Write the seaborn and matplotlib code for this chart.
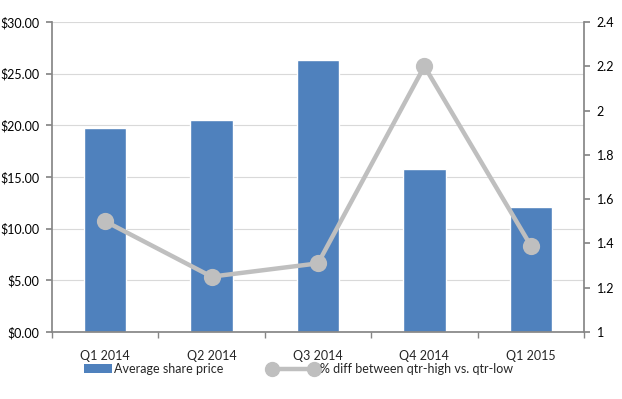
import numpy as np
import pandas as pd
import matplotlib
matplotlib.use("Agg")
import matplotlib.pyplot as plt
import seaborn as sns
from matplotlib.lines import Line2D
from matplotlib.patches import Patch, Rectangle
from matplotlib.legend_handler import HandlerPatch
from matplotlib.ticker import FuncFormatter, MultipleLocator, FixedLocator

# === Data ===
quarters = ["Q1 2014", "Q2 2014", "Q3 2014", "Q4 2014", "Q1 2015"]
avg_price = [19.75, 20.5, 26.3, 15.75, 12.05]
pct_diff = [1.50, 1.25, 1.31, 2.20, 1.39]

BLUE = "#4F81BD"
GREY = "#BFBFBF"
AXIS = "#868686"
FS = 9

sns.set_theme(style="white")
plt.rcParams["font.family"] = ["Lato", "DejaVu Sans"]
plt.rcParams["font.size"] = FS

df = pd.DataFrame({"quarter": quarters, "price": avg_price, "pct": pct_diff})

fig = plt.figure(figsize=(6.22, 3.99), dpi=100)
ax = fig.add_axes([52 / 622, 1 - 332 / 399, (584 - 52) / 622, (332 - 22) / 399])

# === Bars (left axis) ===
sns.barplot(data=df, x="quarter", y="price", color=BLUE, width=0.4,
            saturation=1, ax=ax, zorder=2)
ax.set_ylim(0, 30)
ax.yaxis.set_major_locator(MultipleLocator(5))
ax.yaxis.set_major_formatter(FuncFormatter(lambda v, p: f"${v:.2f}"))
ax.grid(axis="y", color="#D9D9D9", linewidth=0.8, zorder=0)
ax.set_axisbelow(True)
ax.set_xlabel("")
ax.set_ylabel("")
ax.set_xlim(-0.5, 4.5)

# === Line (right axis) ===
ax2 = ax.twinx()
sns.pointplot(data=df, x="quarter", y="pct", color=GREY, markers="o",
              markersize=10, linewidth=3.2, ax=ax2)
ax2.set_ylim(1, 2.4)
ax2.yaxis.set_major_locator(MultipleLocator(0.2))
ax2.yaxis.set_major_formatter(FuncFormatter(lambda v, p: f"{v:g}"))
ax2.set_xlim(-0.5, 4.5)
ax2.set_xlabel("")
ax2.set_ylabel("")

# === Spines / ticks ===
for a in (ax, ax2):
    for s in a.spines.values():
        s.set_visible(False)
ax.spines["left"].set_visible(True)
ax.spines["left"].set_color(AXIS)
ax.spines["bottom"].set_visible(True)
ax.spines["bottom"].set_color(AXIS)
ax2.spines["right"].set_visible(True)
ax2.spines["right"].set_color(AXIS)

ax.tick_params(axis="y", left=True, length=4, color=AXIS, pad=5, labelsize=FS, labelcolor="black")
ax2.tick_params(axis="y", right=True, length=4, color=AXIS, pad=5, labelsize=FS, labelcolor="black")
ax.xaxis.set_minor_locator(FixedLocator([-0.5, 0.5, 1.5, 2.5, 3.5, 4.5]))
ax.tick_params(axis="x", which="major", bottom=False, pad=7, labelsize=FS)
ax.tick_params(axis="x", which="minor", bottom=True, length=4, color=AXIS)


# narrower legend patch than the line handle
def small_patch(legend, orig_handle, xdescent, ydescent, width, height, fontsize):
    w = width * 0.55
    return Rectangle((width - w - xdescent, -ydescent), w, height)


# === Legend ===
handles = [
    Patch(facecolor=BLUE, edgecolor="none"),
    Line2D([0, 1], [0, 0], color=GREY, linewidth=3.2, marker="o", markersize=10),
]
labels = ["Average share price", "% diff between qtr-high vs. qtr-low"]
fig.legend(handles, labels, loc="center", bbox_to_anchor=(0.462, 1 - 369 / 399),
           ncol=2, frameon=False, numpoints=2, handlelength=4.0,
           handletextpad=0.15, columnspacing=3.6, fontsize=FS,
           handler_map={Patch: HandlerPatch(patch_func=small_patch)})

fig.savefig("out.png", dpi=100)
